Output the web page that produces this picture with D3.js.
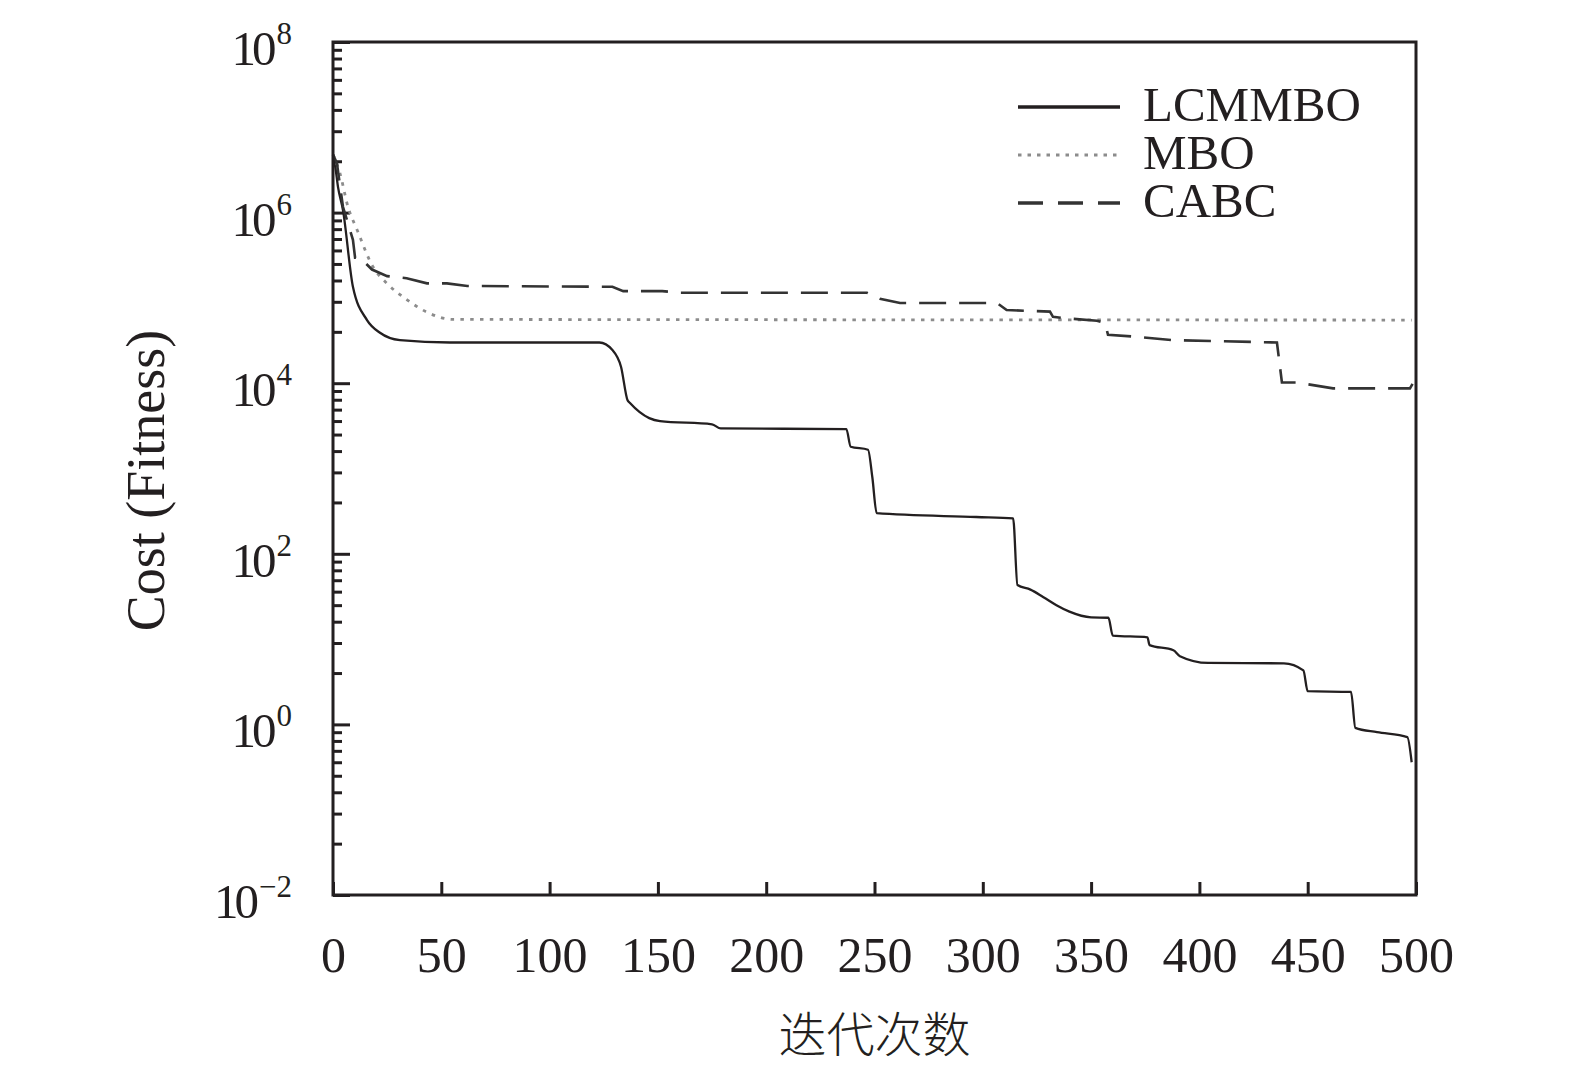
<!DOCTYPE html>
<html>
<head>
<meta charset="utf-8">
<script src="https://cdn.jsdelivr.net/npm/d3@7"></script>
<style>
body { margin: 0; background: #fff; }
text { fill: #231f20; font-family: "Liberation Serif", "Times New Roman", serif; }
</style>
</head>
<body>
<svg id="mainChart"></svg>
<script>
var MARGIN = {
    LEFT: 333,
    RIGHT: 159,
    TOP: 42,
    BOTTOM: 174,
};
var chartWidth = 1575 - MARGIN.LEFT - MARGIN.RIGHT,
    chartHeight = 1069 - MARGIN.TOP - MARGIN.BOTTOM;

// series
var seriesNames = ['LCMMBO', 'MBO', 'CABC'];
var lcmmboIter = [0, 1, 2.3, 4.6, 9.2, 15.7, 21.7, 30.9, 54, 123, 129, 133, 136, 137, 146, 151, 175, 179,
    237, 239, 247, 249, 251, 297, 314, 316, 322, 328, 334, 340, 350, 358, 360, 376, 377, 388, 391, 404,
    439, 448, 450, 470, 472, 482, 496, 498];
var lcmmboCost = [4.4e6, 3.5e6, 2.0e6, 1.07e6, 1.35e5, 5.5e4, 3.9e4, 3.2e4, 3.0e4, 3.0e4, 2.45e4, 1.55e4,
    6.3e3, 5.9e3, 3.9e3, 3.6e3, 3.3e3, 2.95e3, 2.9e3, 1.8e3, 1.66e3, 790, 300, 270, 260, 43, 38, 31, 25,
    21, 18, 17.8, 11, 10.5, 8.5, 7.4, 6.3, 5.25, 5.2, 4.3, 2.45, 2.4, 0.91, 0.81, 0.71, 0.36];
var mboIter = [0, 3.2, 6.9, 11.1, 18.5, 24.9, 34.2, 43.4, 55.4, 498];
var mboCost = [4.8e6, 2.9e6, 1.17e6, 6.3e5, 2.3e5, 1.48e5, 9.5e4, 6.8e4, 5.6e4, 5.5e4];
var cabcIter = [0, 1.8, 4.6, 9.2, 10.2, 12.5, 18, 25, 34, 43.4, 52.6, 62, 129, 134, 152, 160, 246.5,
    252.5, 261.8, 306.6, 311, 331, 332.4, 339, 352.7, 356.4, 357.8, 371.2, 387.8, 435.8, 438.1, 445,
    461.7, 497.2, 498.6];
var cabcCost = [4.8e6, 3.8e6, 1.17e6, 4.8e5, 2.95e5, 2.95e5, 2.15e5, 1.8e5, 1.7e5, 1.48e5, 1.48e5,
    1.38e5, 1.35e5, 1.2e5, 1.2e5, 1.15e5, 1.15e5, 9.8e4, 8.7e4, 8.7e4, 7.2e4, 6.9e4, 6.0e4, 5.75e4,
    5.4e4, 5.1e4, 3.7e4, 3.5e4, 3.2e4, 3.0e4, 1.02e4, 1.02e4, 8.7e3, 8.7e3, 1.0e4];

// ticks
var xTicks = [0, 50, 100, 150, 200, 250, 300, 350, 400, 450, 500];
var yMajorExp = [-2, 0, 2, 4, 6, 8];
var yMinorSubs = [2, 3, 4, 5, 6, 7, 8, 9];
var xTitle = '迭代次数';
var yTitle = 'Cost (Fitness)';

var yMajor = yMajorExp.map(function (e) { return Math.pow(10, e); });
var yMinor = [];
yMajorExp.slice(0, -1).forEach(function (e) {
    yMinorSubs.forEach(function (m) {
        yMinor.push(m * m * Math.pow(10, e));
    });
});

var xScale = d3.scaleLinear()
    .domain([0, 500])
    .range([0, chartWidth]);
var yScale = d3.scaleLog()
    .domain([1e-2, 1e8])
    .range([chartHeight, 0]);

var svg = d3.select('#mainChart')
    .attr('width', 1575)
    .attr('height', 1069);
var innerChart = svg.append('g')
    .attr('transform', 'translate(' + MARGIN.LEFT + ',' + MARGIN.TOP + ')');

var toPoints = function (iters, costs) {
    return iters.map(function (d, i) { return [d, costs[i]]; });
};
var series = [
    { name: seriesNames[0], pts: toPoints(lcmmboIter, lcmmboCost), color: '#231f20', width: 2.3, dash: null, legendDash: null, curve: d3.curveMonotoneX },
    { name: seriesNames[1], pts: toPoints(mboIter, mboCost), color: '#8c8c8c', width: 2.8, dash: '3.5,6.3', legendDash: '3.5,6', curve: d3.curveMonotoneX },
    { name: seriesNames[2], pts: toPoints(cabcIter, cabcCost), color: '#333', width: 2.6, dash: '27,13', legendDash: '25,15', curve: d3.curveLinear },
];

var draw = function () {
    var axisColor = '#231f20';

    // inward ticks
    var xAxis = d3.axisBottom(xScale)
        .tickValues(xTicks)
        .tickSize(-13)
        .tickPadding(41)
        .tickFormat(function (d) { return d; });
    var gx = innerChart.append('g')
        .attr('transform', 'translate(0,' + chartHeight + ')')
        .call(xAxis);
    gx.select('.domain').remove();
    gx.selectAll('line').attr('stroke', axisColor).attr('stroke-width', 3);
    gx.selectAll('text')
        .style('font-size', '50px')
        .style('font-family', '"Liberation Serif", serif')
        .attr('fill', axisColor);

    var gyMinor = innerChart.append('g')
        .call(d3.axisLeft(yScale).tickValues(yMinor).tickSize(-9).tickFormat(''));
    var gyMajor = innerChart.append('g')
        .call(d3.axisLeft(yScale).tickValues(yMajor).tickSize(-17).tickFormat(''));
    [gyMinor, gyMajor].forEach(function (g) {
        g.select('.domain').remove();
        g.selectAll('line').attr('stroke', axisColor).attr('stroke-width', 3);
    });

    // 10^n labels
    var lbl = innerChart.append('g').selectAll('text')
        .data(yMajorExp)
        .enter()
        .append('text')
        .attr('x', -41)
        .attr('y', function (d) { return yScale(Math.pow(10, d)) + 23; })
        .attr('text-anchor', 'end')
        .style('font-size', '49px');
    lbl.append('tspan')
        .style('letter-spacing', '-4px')
        .text('10');
    lbl.append('tspan')
        .attr('dy', -21)
        .attr('dx', 4)
        .style('font-size', '31px')
        .text(function (d) { return d < 0 ? '\u2212' + (-d) : d; });

    // curves
    series.forEach(function (s) {
        var line = d3.line()
            .x(function (d) { return xScale(d[0]); })
            .y(function (d) { return yScale(d[1]); })
            .curve(s.curve);
        innerChart.append('path')
            .datum(s.pts)
            .attr('fill', 'none')
            .attr('stroke', s.color)
            .attr('stroke-width', s.width)
            .attr('stroke-dasharray', s.dash)
            .attr('d', line);
    });

    // frame
    innerChart.append('rect')
        .attr('x', 0)
        .attr('y', 0)
        .attr('width', chartWidth)
        .attr('height', chartHeight)
        .attr('fill', 'none')
        .attr('stroke', axisColor)
        .attr('stroke-width', 3);

    // legend
    var legend = innerChart.append('g')
        .attr('transform', 'translate(685,65)');
    var items = legend.selectAll('g')
        .data(series)
        .enter()
        .append('g')
        .attr('transform', function (d, i) { return 'translate(0,' + i * 48 + ')'; });
    items.append('line')
        .attr('x1', 0)
        .attr('x2', 102)
        .attr('stroke', function (d) { return d.color; })
        .attr('stroke-width', function (d) { return d.legendDash === '3.5,6' ? 3 : 3.5; })
        .attr('stroke-dasharray', function (d) { return d.legendDash; });
    items.append('text')
        .attr('x', 125)
        .attr('y', 14)
        .style('font-size', '49px')
        .text(function (d) { return d.name; });

    // titles
    innerChart.append('text')
        .attr('x', chartWidth / 2)
        .attr('y', chartHeight + 157)
        .attr('text-anchor', 'middle')
        .style('font-family', '"Noto Sans CJK SC", sans-serif')
        .style('font-size', '48px')
        .style('font-weight', '300')
        .text(xTitle);
    innerChart.append('text')
        .attr('transform', 'translate(' + (-169) + ',' + (chartHeight / 2 + 12) + ') rotate(-90)')
        .attr('text-anchor', 'middle')
        .style('font-size', '54px')
        .text(yTitle);
};
draw();
</script>
</body>
</html>
